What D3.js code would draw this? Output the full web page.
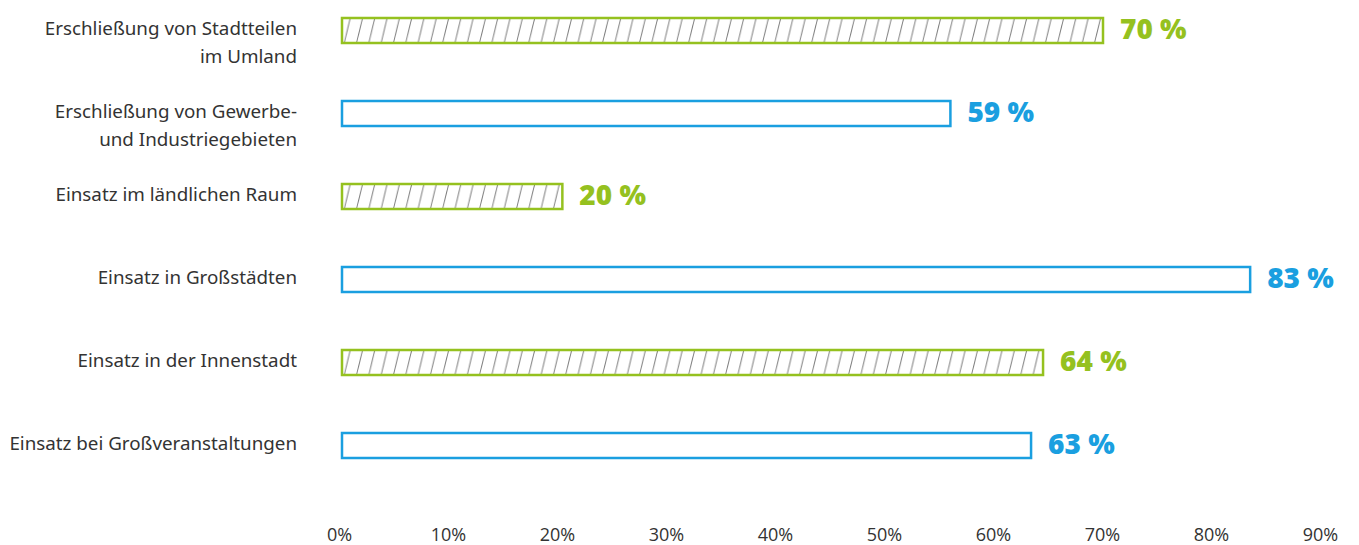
<!DOCTYPE html>
<html><head><meta charset="utf-8">
<script src="https://cdn.jsdelivr.net/npm/d3@7"></script>
<style>
html,body{margin:0;padding:0;background:#fff;}
svg{display:block;}
</style></head>
<body>
<svg id="chart" width="1359" height="545"></svg>
<script>
const categories = [
  ["Erschließung von Stadtteilen","im Umland"],
  ["Erschließung von Gewerbe-","und Industriegebieten"],
  ["Einsatz im ländlichen Raum"],
  ["Einsatz in Großstädten"],
  ["Einsatz in der Innenstadt"],
  ["Einsatz bei Großveranstaltungen"]
];
const barValues = [70, 56, 20.4, 83.5, 64.5, 63.4];
const valueLabels = ["70 %", "59 %", "20 %", "83 %", "64 %", "63 %"];
const hatched = [true, false, true, false, true, false];
const tickValues = [0,10,20,30,40,50,60,70,80,90];

const GREEN = "#95c11f", BLUE = "#1a9fe0";
const svg = d3.select("#chart");
const x = d3.scaleLinear().domain([0, 90]).range([341, 1322]);
const ids = categories.map((c, i) => i);
const y = d3.scaleBand().domain(ids).range([17, 459]).paddingInner(56/83).paddingOuter(0);
const bw = y.bandwidth();

const defs = svg.append("defs");
const pat = defs.append("pattern").attr("id", "hatch")
  .attr("patternUnits", "userSpaceOnUse")
  .attr("x", 341).attr("y", y(0))
  .attr("width", 12.3).attr("height", y.step());
pat.append("line").attr("x1", 3).attr("y1", bw).attr("x2", 9.5).attr("y2", 0)
  .attr("stroke", "#7a7a7a").attr("stroke-width", 1);

// category labels
const lab = svg.append("g").selectAll("text").data(categories).join("text")
  .attr("x", 297)
  .attr("text-anchor", "end")
  .attr("font-family", "'Noto Sans', sans-serif")
  .attr("font-size", 18.8)
  .attr("fill", "#333");
lab.each(function(lines, i) {
  const t = d3.select(this);
  lines.forEach((ln, j) => {
    t.append("tspan").attr("x", 297)
      .attr("y", y(i) + bw/2 + 4 + j*28)
      .text(ln);
  });
});

// bars
svg.append("g").selectAll("rect").data(barValues).join("rect")
  .attr("x", x(0) + 1)
  .attr("y", (d, i) => y(i) + 1)
  .attr("width", d => x(d) - x(0) - 2)
  .attr("height", bw - 2)
  .attr("fill", (d, i) => hatched[i] ? "url(#hatch)" : "#fff")
  .attr("stroke", (d, i) => hatched[i] ? GREEN : BLUE)
  .attr("stroke-width", 2.5);

// value labels
svg.append("g").selectAll("text").data(barValues).join("text")
  .attr("x", d => x(d) + 16)
  .attr("y", (d, i) => y(i) + bw/2 + 8)
  .attr("font-family", "'Open Sans', sans-serif")
  .attr("font-weight", 800)
  .attr("font-size", 28)
  .attr("fill", (d, i) => hatched[i] ? GREEN : BLUE)
  .text((d, i) => valueLabels[i]);

// x axis
const axis = d3.axisBottom(x).tickValues(tickValues).tickFormat(d => d + "%").tickSize(0);
const ag = svg.append("g").attr("transform", "translate(-2,523)").call(axis);
ag.select(".domain").remove();
ag.selectAll("text")
  .attr("font-family", "'Open Sans', sans-serif")
  .attr("font-size", 18)
  .attr("fill", "#333")
  .attr("dy", 0).attr("y", 18);
</script>
</body></html>
